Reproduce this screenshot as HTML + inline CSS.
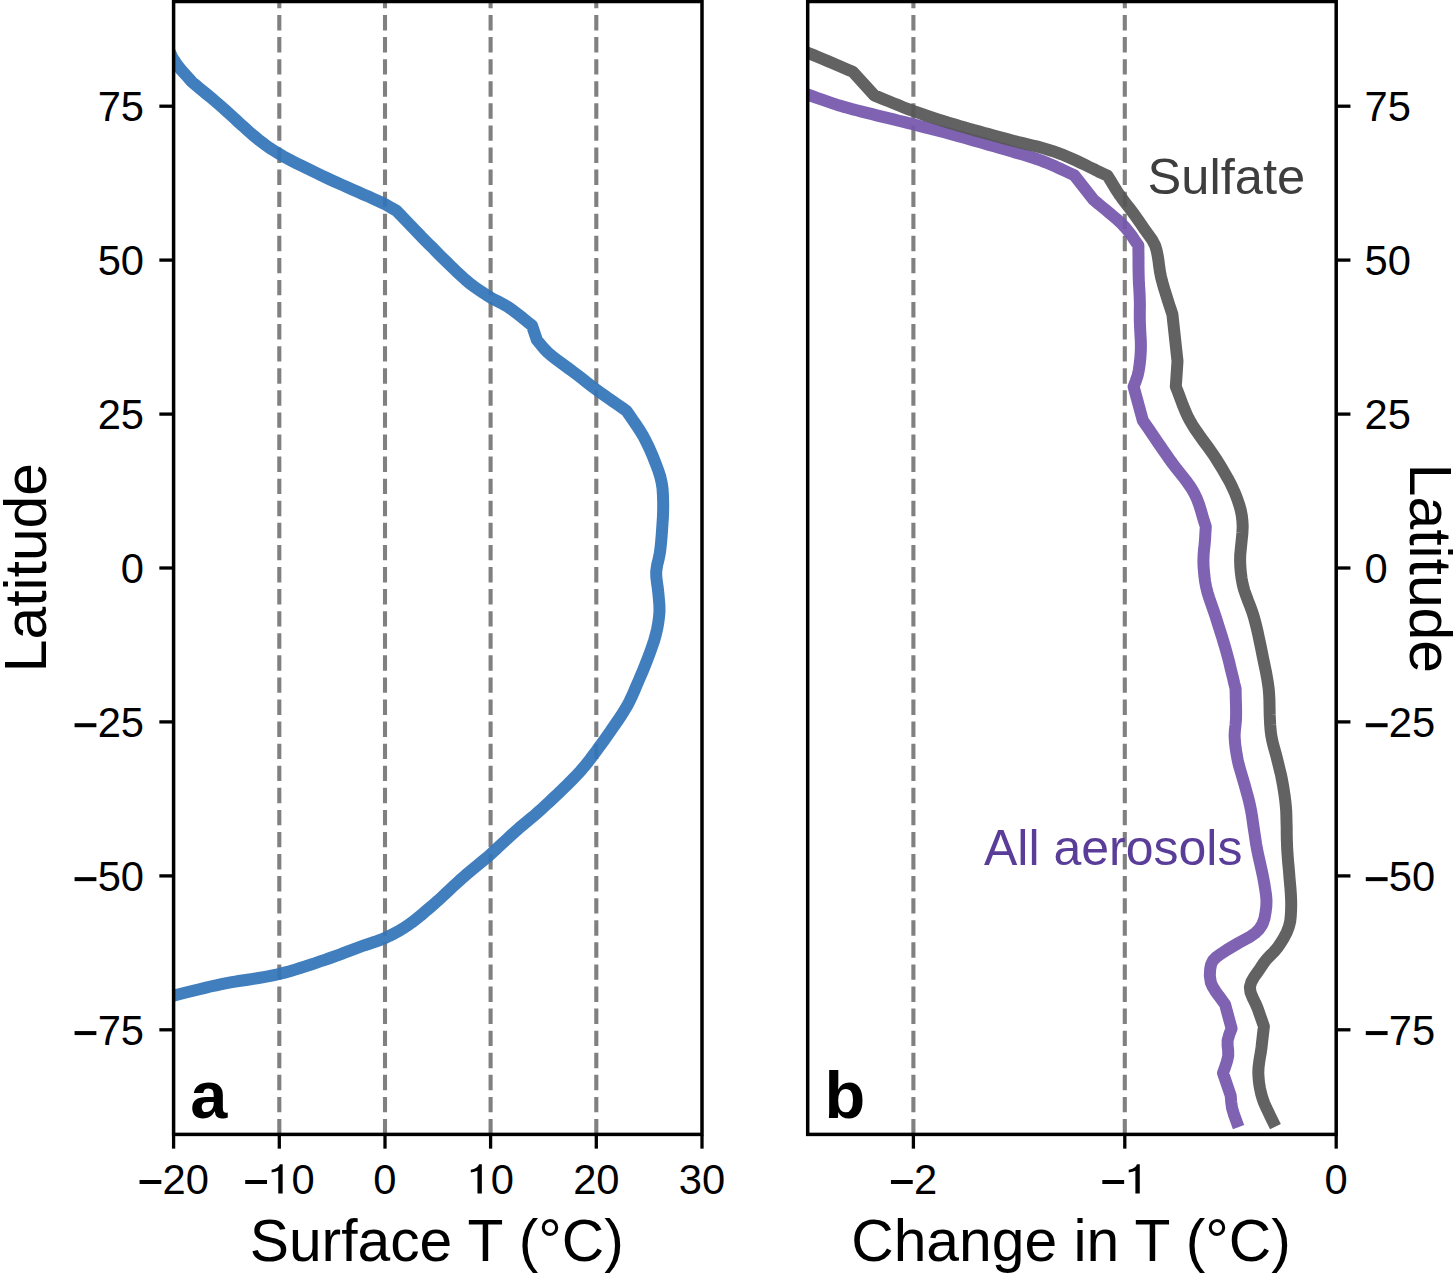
<!DOCTYPE html>
<html><head><meta charset="utf-8"><title>Zonal-mean temperature</title>
<style>
html,body{margin:0;padding:0;background:#fff;}
body{width:1453px;height:1275px;overflow:hidden;}
svg{display:block;}
text{font-family:"Liberation Sans",sans-serif;fill:#000;}
.tk{font-size:41.7px;}
.ax{font-size:58.8px;}
.an{font-size:50px;}
.pl{font-size:66.7px;font-weight:bold;}
.sp{fill:none;stroke:#000;stroke-width:3.5;}
.tick{stroke:#000;stroke-width:3.3;}
.grid{stroke:#808080;stroke-width:4.1;stroke-dasharray:15.4 6.68;fill:none;}
.crv{fill:none;stroke-width:12;stroke-linejoin:round;stroke-linecap:square;}
</style></head><body>
<svg width="1453" height="1275" viewBox="0 0 1453 1275">
<rect x="0" y="0" width="1453" height="1275" fill="#ffffff"/>
<defs>
<clipPath id="ca"><rect x="173.6" y="1.5" width="528.4" height="1132.9"/></clipPath>
<clipPath id="cb"><rect x="807.7" y="1.5" width="528.5" height="1132.9"/></clipPath>
</defs>
<g class="grid">
<line x1="279.3" y1="1134.4" x2="279.3" y2="1.5"/>
<line x1="385.0" y1="1134.4" x2="385.0" y2="1.5"/>
<line x1="490.6" y1="1134.4" x2="490.6" y2="1.5"/>
<line x1="596.3" y1="1134.4" x2="596.3" y2="1.5"/>
<line x1="913.4" y1="1134.4" x2="913.4" y2="1.5"/>
<line x1="1124.8" y1="1134.4" x2="1124.8" y2="1.5"/>
</g>
<g clip-path="url(#ca)"><polyline class="crv" stroke="#3374b9" stroke-opacity="0.93" points="160.0,29.0 162.1,33.7 164.0,38.5 166.0,43.3 168.0,48.1 170.1,52.7 172.3,57.2 174.7,61.3 177.9,65.9 181.3,70.1 184.9,74.1 188.5,78.0 192.0,82.0 195.8,85.2 199.6,88.3 203.3,91.4 207.1,94.5 211.0,97.7 214.9,101.0 219.0,104.5 222.7,107.7 226.6,111.2 230.6,114.9 234.7,118.7 238.8,122.5 243.0,126.2 247.0,129.9 250.9,133.4 254.7,136.5 258.2,139.4 262.6,142.8 266.5,145.7 270.3,148.4 274.5,151.0 279.2,153.9 283.1,156.2 287.3,158.5 291.8,160.9 296.6,163.3 301.4,165.7 306.5,168.2 311.6,170.7 316.7,173.1 321.8,175.6 326.9,178.0 331.6,180.2 336.7,182.5 342.0,184.9 347.4,187.3 352.8,189.7 358.2,192.1 363.4,194.4 368.5,196.6 373.2,198.7 377.6,200.7 381.4,202.5 384.7,204.1 391.2,207.7 396.5,210.8 400.1,214.5 403.6,218.2 407.2,221.9 410.8,225.7 414.4,229.4 417.9,233.0 421.4,236.7 424.9,240.2 428.6,243.9 432.3,247.6 435.9,251.3 439.5,254.9 443.1,258.5 446.6,261.9 450.0,265.2 453.9,269.0 457.7,272.7 461.5,276.2 465.3,279.6 469.2,282.9 473.3,286.1 477.6,289.1 481.9,292.0 486.2,294.8 490.4,297.4 494.9,299.9 499.4,302.2 503.8,304.5 508.4,307.2 513.0,310.4 517.7,314.0 522.5,317.8 527.2,321.7 532.0,325.5 536.9,340.0 540.2,344.0 543.5,348.0 547.6,352.2 551.0,355.2 555.1,358.4 559.5,361.8 564.1,365.2 568.7,368.5 573.1,371.8 577.1,374.8 582.0,378.6 586.6,382.2 591.1,385.7 596.1,389.5 600.0,392.4 604.2,395.3 608.6,398.4 613.1,401.5 617.6,404.6 622.1,407.7 626.5,410.8 629.8,415.7 633.2,420.6 636.6,425.5 639.8,430.4 642.8,435.3 645.3,440.0 647.6,444.6 649.8,449.3 651.9,454.1 653.8,458.8 656.1,464.6 658.3,470.5 660.2,476.4 661.6,482.3 662.5,488.1 662.9,494.0 663.1,499.9 663.2,505.8 663.1,511.7 662.9,517.6 662.5,523.4 662.1,529.3 661.7,535.2 661.2,541.2 660.6,547.1 659.9,552.8 658.6,559.2 657.1,565.3 656.2,571.6 656.3,576.8 656.9,582.1 657.7,587.5 658.3,592.7 658.9,599.0 659.4,605.1 659.5,611.5 659.0,617.2 658.2,623.1 657.1,629.1 655.7,635.0 654.0,641.0 652.0,646.9 649.9,652.8 647.7,658.6 645.5,664.2 643.3,669.8 640.9,675.4 638.5,681.0 636.4,685.9 634.3,690.9 632.1,695.9 629.7,700.9 627.1,705.9 624.5,710.3 621.7,714.7 618.8,719.1 615.8,723.5 612.8,727.7 610.0,731.8 606.5,736.9 603.1,741.7 599.6,746.4 596.1,751.2 593.2,755.1 590.4,758.9 587.4,762.7 584.2,766.7 580.5,771.0 577.4,774.4 573.9,778.0 570.2,781.8 566.3,785.7 562.2,789.6 558.1,793.6 553.9,797.5 549.9,801.3 546.0,804.9 542.3,808.3 538.2,812.0 534.3,815.4 530.4,818.7 526.6,821.9 522.8,825.0 519.0,828.2 515.3,831.5 511.1,835.3 507.0,839.1 502.9,842.9 498.8,846.7 494.7,850.6 490.4,854.4 486.4,857.9 482.2,861.4 478.0,864.9 473.7,868.4 469.5,871.9 465.3,875.4 461.2,879.0 457.3,882.6 453.4,886.2 449.5,889.8 445.7,893.4 441.9,897.0 438.0,900.6 434.1,904.0 429.6,907.9 425.1,911.7 420.6,915.6 416.0,919.2 411.5,922.7 407.1,925.8 402.6,928.7 398.3,931.3 393.9,933.6 389.5,935.9 384.9,938.0 380.0,940.0 375.0,941.8 369.9,943.5 364.7,945.2 359.3,947.1 354.7,948.8 350.0,950.6 345.2,952.4 340.3,954.3 335.3,956.1 330.1,958.0 324.9,959.8 320.1,961.4 315.3,963.1 310.4,964.7 305.3,966.4 300.2,968.0 295.1,969.6 289.8,971.2 284.5,972.6 279.1,974.0 274.1,975.1 269.0,976.2 263.8,977.1 258.5,978.0 253.1,978.9 247.7,979.7 242.4,980.5 237.0,981.3 231.8,982.2 226.6,983.1 221.6,984.1 216.1,985.3 210.5,986.5 205.0,987.8 199.5,989.2 194.2,990.5 189.0,991.8 183.9,993.0 179.1,994.2 174.6,995.3 169.2,996.6 164.2,997.7 159.5,998.8 154.8,999.9 150.0,1001.0"/></g>
<g clip-path="url(#cb)"><polyline class="crv" stroke="#7556ac" stroke-opacity="0.93" points="790.0,88.3 794.6,89.9 799.1,91.5 803.8,93.2 808.9,95.0 813.1,96.5 817.5,98.1 822.1,99.7 827.0,101.4 832.0,103.1 837.4,104.9 843.0,106.6 847.3,107.8 851.8,109.1 856.6,110.3 861.7,111.6 866.9,112.9 872.2,114.2 877.5,115.6 882.9,116.9 888.3,118.1 893.6,119.4 898.7,120.7 903.7,121.9 908.5,123.1 913.0,124.2 918.7,125.7 924.1,127.1 929.3,128.4 934.3,129.7 939.3,131.0 944.3,132.3 949.5,133.7 954.9,135.2 959.5,136.5 964.3,137.8 969.3,139.2 974.3,140.6 979.3,142.0 984.4,143.4 989.3,144.9 994.2,146.3 999.0,147.7 1003.6,149.0 1008.0,150.3 1014.0,152.1 1019.8,153.7 1025.3,155.3 1030.6,157.0 1036.0,158.8 1041.4,160.7 1046.2,162.6 1050.9,164.6 1055.6,166.6 1060.3,168.8 1064.9,170.9 1069.6,173.1 1074.3,175.2 1093.5,199.7 1097.5,203.1 1101.6,206.5 1105.8,209.9 1109.9,213.3 1113.9,216.7 1117.8,220.1 1121.3,223.4 1124.5,226.7 1128.5,231.5 1132.0,236.2 1135.1,240.8 1138.4,245.5 1138.4,250.8 1138.5,256.1 1138.5,261.5 1138.5,266.8 1138.6,271.9 1138.7,276.9 1138.9,283.0 1139.3,288.8 1139.6,294.4 1139.8,300.0 1139.9,305.1 1139.8,310.0 1139.8,315.0 1139.8,320.4 1140.0,325.2 1140.2,330.3 1140.5,335.5 1140.8,340.8 1140.9,346.0 1140.8,351.0 1140.4,357.5 1139.7,364.0 1138.8,370.1 1137.7,375.4 1135.7,381.3 1133.6,386.6 1142.8,420.3 1145.7,424.6 1148.7,428.9 1151.6,433.3 1154.6,437.6 1157.5,442.0 1160.5,446.3 1163.4,450.6 1166.4,454.8 1169.3,459.0 1172.5,463.4 1175.9,467.8 1179.3,472.1 1182.7,476.4 1186.0,480.6 1189.1,484.9 1192.0,489.3 1194.5,493.7 1197.0,499.1 1199.1,504.6 1200.8,510.1 1202.4,515.6 1204.0,521.2 1205.8,526.7 1205.4,533.2 1205.0,540.0 1204.6,544.7 1204.0,549.8 1203.6,555.0 1203.4,560.4 1203.5,565.5 1203.9,570.7 1204.4,576.1 1205.1,581.5 1206.1,586.9 1207.5,592.5 1209.2,598.1 1211.2,603.7 1213.2,609.5 1215.2,615.4 1216.8,620.4 1218.4,625.5 1220.1,630.8 1221.8,636.1 1223.4,641.5 1225.0,646.8 1226.5,652.1 1227.9,657.3 1229.3,662.6 1230.5,667.8 1231.8,673.1 1233.1,678.3 1234.3,683.6 1235.6,688.8 1235.7,694.0 1235.8,699.4 1236.0,704.7 1236.1,709.9 1236.1,714.9 1236.0,719.4 1235.5,725.1 1234.9,730.2 1234.6,735.7 1234.9,741.5 1235.6,747.8 1236.6,754.2 1237.7,760.2 1238.9,765.3 1240.3,770.1 1241.7,774.9 1243.2,780.0 1244.6,784.8 1246.0,789.8 1247.4,794.9 1248.8,800.2 1250.1,805.9 1251.1,810.8 1252.0,816.1 1252.8,821.7 1253.6,827.4 1254.5,833.1 1255.3,838.6 1256.1,844.0 1257.0,849.0 1258.2,854.9 1259.5,860.6 1260.7,866.0 1261.9,871.3 1263.0,876.6 1264.2,883.0 1265.2,889.4 1266.1,895.4 1266.5,900.8 1266.3,906.6 1265.6,912.0 1264.5,918.2 1262.5,924.0 1259.6,928.7 1255.5,932.9 1250.5,936.4 1244.5,939.7 1238.5,943.0 1232.6,946.5 1226.7,950.0 1221.5,953.4 1216.7,956.8 1213.0,960.5 1211.1,964.5 1210.2,969.0 1209.8,975.6 1210.9,982.8 1212.8,986.9 1215.5,991.2 1218.7,995.7 1222.0,1000.1 1225.1,1004.5 1231.6,1028.5 1229.3,1034.4 1227.6,1040.5 1227.6,1045.5 1228.2,1050.7 1228.2,1056.0 1226.9,1061.6 1225.0,1067.3 1223.0,1073.0 1230.7,1095.6 1231.2,1102.0 1232.1,1108.3 1234.1,1114.9 1236.5,1121.5"/>
<polyline class="crv" stroke="#565656" stroke-opacity="0.93" points="790.0,45.2 794.5,47.1 799.0,49.0 803.6,51.0 808.9,53.2 813.0,54.9 817.4,56.8 822.2,58.8 827.2,60.9 832.3,63.1 837.5,65.3 842.7,67.5 847.8,69.7 852.8,71.8 874.3,95.4 879.1,97.4 883.9,99.3 888.7,101.3 893.5,103.3 898.3,105.2 903.2,107.2 908.1,109.1 913.0,110.9 918.1,112.7 923.2,114.5 928.3,116.2 933.5,117.9 938.7,119.6 944.0,121.3 949.4,122.9 954.9,124.6 959.5,126.0 964.2,127.3 969.0,128.7 973.8,130.1 978.7,131.4 983.6,132.8 988.6,134.1 993.5,135.5 998.4,136.8 1003.2,138.1 1008.0,139.4 1013.0,140.7 1018.0,142.0 1022.9,143.2 1027.8,144.3 1032.7,145.5 1037.6,146.7 1042.5,148.0 1047.4,149.4 1052.2,150.9 1057.1,152.6 1061.7,154.3 1066.3,156.2 1070.9,158.2 1075.5,160.3 1080.1,162.5 1084.7,164.7 1089.3,167.0 1093.9,169.2 1098.4,171.5 1103.0,173.7 1107.6,175.8 1110.6,180.7 1113.6,185.6 1116.6,190.5 1119.8,195.3 1123.3,200.1 1126.9,204.8 1130.6,209.5 1134.0,214.1 1137.8,219.4 1141.4,224.6 1144.9,229.8 1148.5,234.8 1152.1,239.7 1155.1,245.5 1156.5,250.1 1157.6,255.2 1158.5,260.7 1159.2,266.4 1160.0,271.8 1161.0,276.9 1162.6,283.1 1164.3,289.0 1166.1,294.7 1167.7,300.0 1169.3,305.0 1170.9,309.7 1172.4,314.3 1177.5,361.2 1175.8,386.6 1177.7,391.4 1179.5,396.2 1181.3,401.0 1183.1,405.8 1185.1,410.6 1187.2,415.5 1189.7,420.3 1192.2,424.6 1195.0,429.0 1198.0,433.3 1201.1,437.7 1204.3,442.1 1207.5,446.4 1210.6,450.7 1213.5,454.9 1216.2,459.0 1219.3,464.0 1222.3,468.9 1225.1,473.7 1227.8,478.4 1230.3,483.0 1232.5,487.6 1235.1,493.4 1237.3,499.1 1239.2,504.7 1240.7,510.0 1241.8,515.6 1242.4,521.0 1242.7,526.3 1242.4,533.1 1241.7,540.0 1241.2,544.8 1240.7,549.8 1240.2,555.1 1240.1,560.4 1240.3,566.3 1240.8,572.3 1241.6,578.5 1242.8,584.9 1244.2,590.1 1246.0,595.3 1248.0,600.7 1250.2,606.2 1252.2,611.8 1254.0,617.5 1255.3,622.4 1256.6,627.5 1257.8,632.6 1258.9,637.9 1260.0,643.1 1261.1,648.3 1262.1,653.3 1263.1,658.2 1264.2,663.5 1265.3,668.7 1266.3,673.7 1267.2,678.7 1268.0,683.7 1268.7,688.8 1269.1,694.0 1269.4,699.3 1269.5,704.7 1269.6,709.9 1269.7,714.9 1269.9,719.4 1270.2,725.1 1270.6,730.2 1271.3,735.7 1272.2,740.3 1273.4,745.3 1274.8,750.4 1276.2,755.4 1277.4,760.2 1278.6,765.2 1279.8,770.1 1281.0,774.9 1282.0,780.0 1282.9,784.8 1283.7,789.8 1284.5,794.9 1285.2,800.2 1285.8,805.9 1286.2,810.8 1286.4,816.1 1286.5,821.7 1286.7,827.4 1286.7,833.1 1286.8,838.6 1287.0,844.0 1287.2,849.0 1287.6,854.9 1288.0,860.5 1288.5,865.9 1289.0,871.2 1289.4,876.6 1289.9,882.2 1290.4,887.8 1290.8,893.4 1291.1,898.9 1291.2,904.2 1291.1,910.0 1290.8,915.7 1290.2,921.3 1288.9,926.7 1286.8,932.2 1284.0,937.6 1280.9,942.7 1277.7,947.4 1273.8,952.0 1269.6,956.1 1266.0,960.0 1263.1,963.9 1260.4,968.1 1257.5,972.2 1254.2,976.9 1251.3,982.0 1249.9,987.0 1250.5,992.2 1252.6,997.5 1255.2,1002.8 1257.5,1008.0 1259.7,1014.2 1261.8,1020.3 1263.9,1026.4 1263.3,1031.6 1262.7,1036.8 1262.1,1042.1 1261.5,1047.5 1260.8,1052.4 1259.9,1057.5 1259.1,1062.7 1258.5,1067.9 1258.3,1073.0 1258.6,1078.1 1259.1,1083.3 1260.0,1088.4 1261.1,1093.5 1262.5,1098.4 1264.2,1103.1 1266.2,1107.7 1268.4,1112.2 1270.6,1116.8 1272.8,1121.3"/></g>
<rect class="sp" x="173.6" y="1.5" width="528.4" height="1132.9"/>
<rect class="sp" x="807.7" y="1.5" width="528.5" height="1132.9"/>
<g class="tick">
<line x1="173.6" y1="1135.65" x2="173.6" y2="1148.65"/>
<line x1="279.3" y1="1135.65" x2="279.3" y2="1148.65"/>
<line x1="385.0" y1="1135.65" x2="385.0" y2="1148.65"/>
<line x1="490.6" y1="1135.65" x2="490.6" y2="1148.65"/>
<line x1="596.3" y1="1135.65" x2="596.3" y2="1148.65"/>
<line x1="702.0" y1="1135.65" x2="702.0" y2="1148.65"/>
<line x1="913.4" y1="1135.65" x2="913.4" y2="1148.65"/>
<line x1="1124.8" y1="1135.65" x2="1124.8" y2="1148.65"/>
<line x1="1336.2" y1="1135.65" x2="1336.2" y2="1148.65"/>
<line x1="172.35" y1="106.2" x2="159.35" y2="106.2"/>
<line x1="1337.45" y1="106.2" x2="1350.45" y2="106.2"/>
<line x1="172.35" y1="260.1" x2="159.35" y2="260.1"/>
<line x1="1337.45" y1="260.1" x2="1350.45" y2="260.1"/>
<line x1="172.35" y1="414.1" x2="159.35" y2="414.1"/>
<line x1="1337.45" y1="414.1" x2="1350.45" y2="414.1"/>
<line x1="172.35" y1="568.0" x2="159.35" y2="568.0"/>
<line x1="1337.45" y1="568.0" x2="1350.45" y2="568.0"/>
<line x1="172.35" y1="721.9" x2="159.35" y2="721.9"/>
<line x1="1337.45" y1="721.9" x2="1350.45" y2="721.9"/>
<line x1="172.35" y1="875.9" x2="159.35" y2="875.9"/>
<line x1="1337.45" y1="875.9" x2="1350.45" y2="875.9"/>
<line x1="172.35" y1="1029.8" x2="159.35" y2="1029.8"/>
<line x1="1337.45" y1="1029.8" x2="1350.45" y2="1029.8"/>
</g>
<g class="tk">
<rect x="139.54" y="1180.00" width="21.8" height="4.0" fill="#000"/><text x="162.59" y="1193.50">2</text><text x="185.78" y="1193.50">0</text>
<rect x="245.22" y="1180.00" width="21.8" height="4.0" fill="#000"/><path d="M282.66,1193.50 L282.66,1164.14 L279.86,1164.14 Q278.49,1168.48 271.61,1169.65 L271.61,1172.40 Q275.78,1171.90 278.28,1170.65 L278.28,1193.50 Z" fill="#000"/><text x="291.46" y="1193.50">0</text>
<text x="373.37" y="1193.50">0</text>
<path d="M481.84,1193.50 L481.84,1164.14 L479.05,1164.14 Q477.67,1168.48 470.79,1169.65 L470.79,1172.40 Q474.96,1171.90 477.46,1170.65 L477.46,1193.50 Z" fill="#000"/><text x="490.64" y="1193.50">0</text>
<text x="573.13" y="1193.50">2</text><text x="596.32" y="1193.50">0</text>
<text x="678.81" y="1193.50">3</text><text x="702.00" y="1193.50">0</text>
<rect x="890.93" y="1180.00" width="21.8" height="4.0" fill="#000"/><text x="913.98" y="1193.50">2</text>
<rect x="1102.33" y="1180.00" width="21.8" height="4.0" fill="#000"/><path d="M1139.77,1193.50 L1139.77,1164.14 L1136.98,1164.14 Q1135.60,1168.48 1128.72,1169.65 L1128.72,1172.40 Q1132.89,1171.90 1135.39,1170.65 L1135.39,1193.50 Z" fill="#000"/>
<text x="1324.61" y="1193.50">0</text>
<text x="97.63" y="121.03">7</text><text x="120.81" y="121.03">5</text>
<text x="1364.50" y="121.03">7</text><text x="1387.69" y="121.03">5</text>
<text x="97.63" y="274.95">5</text><text x="120.81" y="274.95">0</text>
<text x="1364.50" y="274.95">5</text><text x="1387.69" y="274.95">0</text>
<text x="97.63" y="428.88">2</text><text x="120.81" y="428.88">5</text>
<text x="1364.50" y="428.88">2</text><text x="1387.69" y="428.88">5</text>
<text x="120.81" y="582.80">0</text>
<text x="1364.50" y="582.80">0</text>
<rect x="74.58" y="723.22" width="21.8" height="4.0" fill="#000"/><text x="97.63" y="736.72">2</text><text x="120.81" y="736.72">5</text>
<rect x="1365.80" y="723.22" width="21.8" height="4.0" fill="#000"/><text x="1388.85" y="736.72">2</text><text x="1412.04" y="736.72">5</text>
<rect x="74.58" y="877.15" width="21.8" height="4.0" fill="#000"/><text x="97.63" y="890.65">5</text><text x="120.81" y="890.65">0</text>
<rect x="1365.80" y="877.15" width="21.8" height="4.0" fill="#000"/><text x="1388.85" y="890.65">5</text><text x="1412.04" y="890.65">0</text>
<rect x="74.58" y="1031.08" width="21.8" height="4.0" fill="#000"/><text x="97.63" y="1044.58">7</text><text x="120.81" y="1044.58">5</text>
<rect x="1365.80" y="1031.08" width="21.8" height="4.0" fill="#000"/><text x="1388.85" y="1044.58">7</text><text x="1412.04" y="1044.58">5</text>
</g>
<text class="ax" x="436.8" y="1261" text-anchor="middle">Surface T (°C)</text>
<text class="ax" x="1071.0" y="1261" text-anchor="middle">Change in T (°C)</text>
<text class="ax" transform="translate(46.0,567.6) rotate(-90)" text-anchor="middle">Latitude</text>
<text class="ax" transform="translate(1410.2,568.4) rotate(90)" text-anchor="middle">Latitude</text>
<text class="an" x="1147.6" y="194.3" style="fill:#3e3e3e;font-size:50.6px">Sulfate</text>
<text class="an" x="984" y="865" style="fill:#5a3d99">All aerosols</text>
<text class="pl" x="190.2" y="1118">a</text>
<text class="pl" x="824.5" y="1118">b</text>
</svg></body></html>
